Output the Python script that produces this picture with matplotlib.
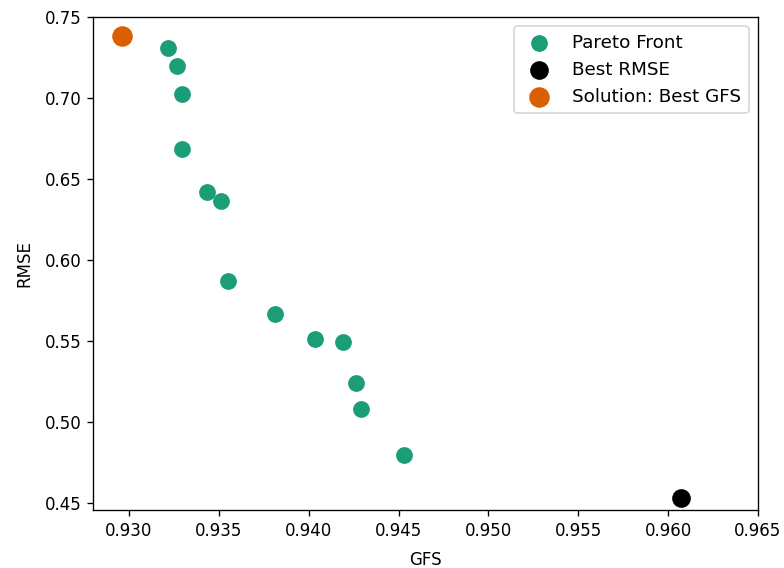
import numpy as np
import matplotlib
matplotlib.use("Agg")
import matplotlib.pyplot as plt

# Pareto front points (GFS, RMSE)
pareto_gfs = [0.93217, 0.93267, 0.93294, 0.93294, 0.93433, 0.93511, 0.9355,
              0.93811, 0.94033, 0.94189, 0.94261, 0.94294, 0.94528]
pareto_rmse = [0.7306, 0.7195, 0.7022, 0.6683, 0.6418, 0.6362, 0.5869,
               0.5666, 0.5511, 0.5493, 0.5240, 0.5080, 0.4796]

best_rmse_gfs = [0.96072]
best_rmse_rmse = [0.4534]

best_gfs_gfs = [0.92961]
best_gfs_rmse = [0.7386]

# rendered at 120 dpi -> 784x568 px
fig = plt.figure(figsize=(784 / 120, 568 / 120), dpi=120)
ax = fig.add_subplot(111)
fig.subplots_adjust(left=0.1186, right=0.9668, top=0.970, bottom=0.1021)

ax.scatter(pareto_gfs, pareto_rmse, s=82, color="#1b9e77", label="Pareto Front")
ax.scatter(best_rmse_gfs, best_rmse_rmse, s=104, color="black", label="Best RMSE")
ax.scatter(best_gfs_gfs, best_gfs_rmse, s=128, color="#d95f02", label="Solution: Best GFS")

ax.set_xlim(0.928, 0.965)
ax.set_ylim(0.4457, 0.75)
ax.set_xticks(np.arange(0.930, 0.9651, 0.005))
ax.set_xlabel("GFS", labelpad=6.5)
ax.set_ylabel("RMSE", labelpad=6.5)
ax.legend(loc="upper right", scatterpoints=1, fontsize=11)

fig.savefig("out.png", dpi=120)
